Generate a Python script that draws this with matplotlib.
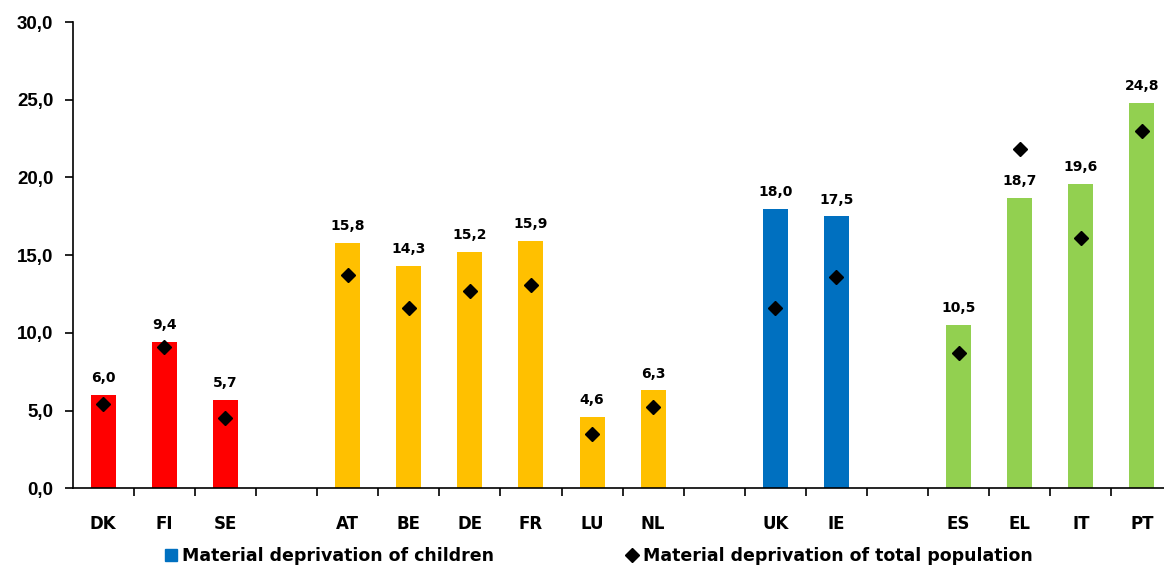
import numpy as np
import matplotlib.pyplot as plt
from matplotlib.patches import Patch
from matplotlib.lines import Line2D

# country groups (one empty slot between groups)
groups = [["DK", "FI", "SE"],
          ["AT", "BE", "DE", "FR", "LU", "NL"],
          ["UK", "IE"],
          ["ES", "EL", "IT", "PT"]]
group_colors = ["#FF0000", "#FFC000", "#0070C0", "#92D050"]

children = [6.0, 9.4, 5.7,
            15.8, 14.3, 15.2, 15.9, 4.6, 6.3,
            18.0, 17.5,
            10.5, 18.7, 19.6, 24.8]
total_pop = [5.4, 9.1, 4.5,
             13.7, 11.6, 12.7, 13.1, 3.5, 5.2,
             11.6, 13.6,
             8.7, 21.8, 16.1, 23.0]

# slot index for each country
labels, colors, xs = [], [], []
slot = 0
for g, col in zip(groups, group_colors):
    for c in g:
        labels.append(c)
        colors.append(col)
        xs.append(slot + 0.5)
        slot += 1
    slot += 1
nslots = slot - 1
xs = np.array(xs)

fig = plt.figure(figsize=(11.64, 5.67), dpi=100)
ax = fig.add_axes([72.7 / 1164, 1 - 488.3 / 567, (nslots * 61.1) / 1164, (488.3 - 22) / 567])

ax.bar(xs, children, width=0.41, color=colors, zorder=2)
ax.plot(xs, total_pop, linestyle="none", marker="D", markersize=7.5, color="black", zorder=3)

for x, v in zip(xs, children):
    ax.annotate(f"{v:.1f}".replace(".", ","), (x, v), xytext=(0, 7), textcoords="offset points",
                ha="center", va="bottom", fontsize=10, fontweight="bold", family="DejaVu Sans")

ax.set_xlim(0, nslots)
ax.set_ylim(0, 30)
ax.set_yticks(np.arange(0, 31, 5))
ax.set_yticklabels([f"{t:.1f}".replace(".", ",") for t in np.arange(0, 31, 5)],
                   fontsize=13.5, fontweight="bold", family="Liberation Sans")
ax.tick_params(axis="y", length=6, width=1.2, pad=8)

ax.set_xticks(np.arange(1, nslots))
ax.set_xticklabels([])
ax.tick_params(axis="x", which="major", length=6, width=1.2)
ax.set_xticks(xs, minor=True)
ax.set_xticklabels(labels, minor=True, fontsize=12, fontweight="bold", family="DejaVu Sans")
ax.tick_params(axis="x", which="minor", length=0, pad=19)

for s in ["top", "right"]:
    ax.spines[s].set_visible(False)
for s in ["left", "bottom"]:
    ax.spines[s].set_linewidth(1.2)

handles = [Patch(color="#0070C0"),
           Line2D([], [], linestyle="none", marker="D", color="black", markersize=7)]
fig.legend(handles, ["Material deprivation of children", "Material deprivation of total population"],
           loc="center left", bbox_to_anchor=(149 / 1164, 1 - 556 / 567), ncol=2, frameon=False,
           handlelength=0.7, handletextpad=0.3, columnspacing=7.6,
           prop={"family": "DejaVu Sans", "weight": "bold", "size": 12.5})

fig.savefig("out.png", dpi=100)
